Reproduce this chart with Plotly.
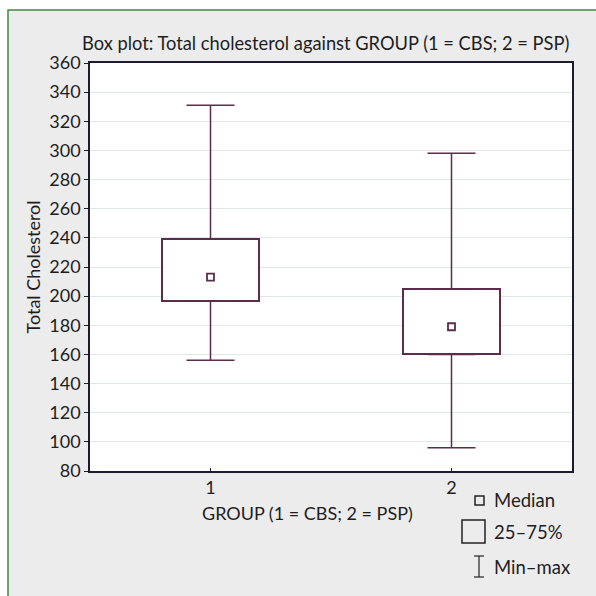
import plotly.graph_objects as go

groups = [1, 2]
mins = [156, 96]
q1 = [196.5, 160]
medians = [213, 179]
q3 = [239, 205]
maxs = [331, 298]

title_text = "Box plot: Total cholesterol against GROUP (1 = CBS; 2 = PSP)"
x_title = "GROUP (1 = CBS; 2 = PSP)"
y_title = "Total Cholesterol"
y_ticks = list(range(80, 361, 20))
legend_labels = ["Median", "25–75%", "Min–max"]

BOX = "#5b2c4c"
FONT = "Lato"
TXT = "#1e1e1e"

W, H = 596, 596
L, R, T, B = 90, 24, 63, 125
PW, PH = W - L - R, H - T - B


def px(x):
    return (x - L) / PW


def py(y):
    return (H - B - y) / PH


fig = go.Figure()

# upper whiskers (from q3 to max)
fig.add_trace(go.Scatter(
    x=groups, y=q3, mode="markers",
    marker=dict(size=1, color="rgba(0,0,0,0)"),
    error_y=dict(type="data", symmetric=False,
                 array=[a - b for a, b in zip(maxs, q3)],
                 arrayminus=[0, 0], color=BOX, thickness=1.5, width=24),
    showlegend=False, hoverinfo="skip"))
# lower whiskers (from min to q1)
fig.add_trace(go.Scatter(
    x=groups, y=q1, mode="markers",
    marker=dict(size=1, color="rgba(0,0,0,0)"),
    error_y=dict(type="data", symmetric=False,
                 array=[0, 0],
                 arrayminus=[a - b for a, b in zip(q1, mins)],
                 color=BOX, thickness=1.5, width=24),
    showlegend=False, hoverinfo="skip"))
# boxes
fig.add_trace(go.Bar(
    x=groups, y=[a - b for a, b in zip(q3, q1)], base=q1, width=0.4,
    marker=dict(color="white", line=dict(color=BOX, width=2)),
    showlegend=False, hoverinfo="skip"))
# medians
fig.add_trace(go.Scatter(
    x=groups, y=medians, mode="markers",
    marker=dict(symbol="square-open", size=7, color=BOX, line=dict(width=1.8)),
    showlegend=False, hoverinfo="skip"))

shapes = [
    # white strips outside the frame
    dict(type="rect", xref="paper", yref="paper", x0=px(0), x1=px(W), y0=py(10), y1=py(0),
         fillcolor="white", line=dict(width=0), layer="below"),
    dict(type="rect", xref="paper", yref="paper", x0=px(0), x1=px(8), y0=py(H), y1=py(0),
         fillcolor="white", line=dict(width=0), layer="below"),
    # green frame
    dict(type="rect", xref="paper", yref="paper", x0=px(8), x1=px(W + 5), y0=py(H + 5), y1=py(10),
         fillcolor="rgba(0,0,0,0)", line=dict(color="#3f8a3f", width=1.5), layer="below"),
    # legend glyphs
    dict(type="rect", xref="paper", yref="paper", x0=px(475), x1=px(484), y0=py(505), y1=py(496),
         line=dict(color="#222", width=1.5), fillcolor="rgba(0,0,0,0)"),
    dict(type="rect", xref="paper", yref="paper", x0=px(462), x1=px(485), y0=py(543), y1=py(520),
         line=dict(color="#222", width=1.5), fillcolor="rgba(0,0,0,0)"),
    dict(type="line", xref="paper", yref="paper", x0=px(479), x1=px(479), y0=py(577), y1=py(556),
         line=dict(color="#222", width=1.2)),
    dict(type="line", xref="paper", yref="paper", x0=px(474), x1=px(484), y0=py(556), y1=py(556),
         line=dict(color="#222", width=1.2)),
    dict(type="line", xref="paper", yref="paper", x0=px(474), x1=px(484), y0=py(577), y1=py(577),
         line=dict(color="#222", width=1.2)),
]

annotations = [
    dict(text=title_text, xref="paper", yref="paper", x=px(325), y=py(43),
         showarrow=False, xanchor="center", yanchor="middle",
         font=dict(family=FONT, size=18.3, color=TXT)),
    dict(text=x_title, xref="paper", yref="paper", x=px(307), y=py(513),
         showarrow=False, xanchor="center", yanchor="middle",
         font=dict(family=FONT, size=18, color=TXT)),
]
for lab, yy in zip(legend_labels, [500, 532, 567]):
    annotations.append(dict(text=lab, xref="paper", yref="paper", x=px(492), y=py(yy),
                            showarrow=False, xanchor="left", yanchor="middle",
                            font=dict(family=FONT, size=18.5, color=TXT)))

fig.update_layout(
    width=W, height=H,
    margin=dict(l=L, r=R, t=T, b=B),
    paper_bgcolor="#ececec",
    plot_bgcolor="white",
    font=dict(family=FONT, size=18, color=TXT),
    shapes=shapes,
    annotations=annotations,
    bargap=0,
    xaxis=dict(range=[0.5, 2.5], tickvals=groups, ticktext=[str(g) for g in groups],
               showgrid=False, zeroline=False, showline=True, linecolor="#1c1c2c",
               linewidth=1.5, mirror=True, ticks="inside", ticklen=3, tickcolor="#1c1c2c",
               tickfont=dict(family=FONT, size=18, color=TXT)),
    yaxis=dict(range=[80, 360], tickvals=y_ticks, showgrid=True, gridcolor="#dfe7e7",
               gridwidth=1, zeroline=False, showline=True, linecolor="#1c1c2c",
               linewidth=1.5, mirror=True, ticks="outside", ticklen=4, tickcolor="#1c1c2c",
               tickfont=dict(family=FONT, size=18, color=TXT),
               title=dict(text=y_title, font=dict(family=FONT, size=18, color=TXT), standoff=4)),
)

fig.write_html("out.html", config={"displayModeBar": False},
               post_script="document.body.style.margin='0';document.body.style.padding='0';")
